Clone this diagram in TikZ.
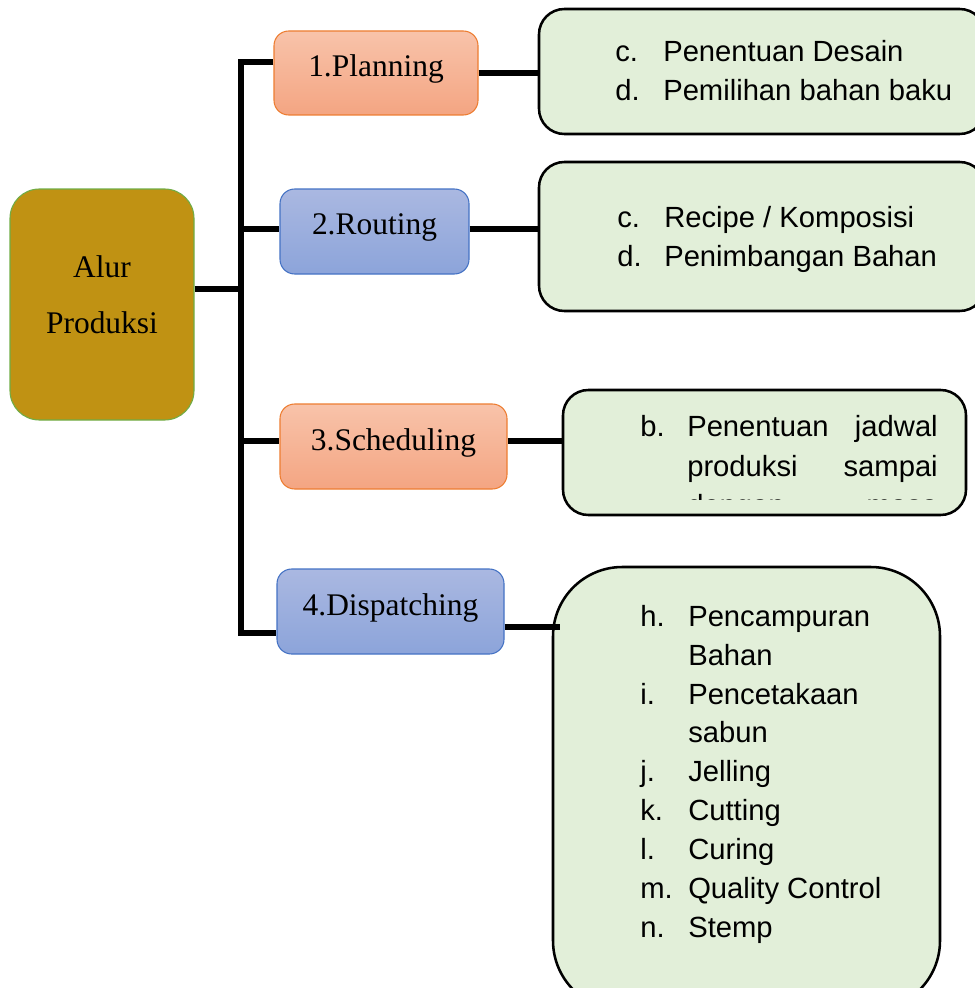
\documentclass[tikz,border=0pt]{standalone}
\usepackage{fontspec}
\setmainfont{Liberation Serif}
\newfontfamily\listfont{Liberation Sans}

\definecolor{alurgold}{HTML}{C09213}
\definecolor{alurline}{HTML}{70AD47}
\definecolor{orangetop}{HTML}{F8C3AA}
\definecolor{orangebot}{HTML}{F4A582}
\definecolor{orangeline}{HTML}{ED7D31}
\definecolor{bluetop}{HTML}{AAB8E1}
\definecolor{bluebot}{HTML}{8CA4DA}
\definecolor{blueline}{HTML}{4472C4}
\definecolor{listgreen}{HTML}{E2EFD9}

\tikzset{
    link/.style={line width=4pt},
    stepbox/.style={draw,line width=0.8pt,rounded corners=11pt,inner sep=0pt,text depth=11pt,
        font=\fontsize{23.6}{28}\selectfont},
    orangebox/.style={stepbox,draw=orangeline,top color=orangetop,bottom color=orangebot},
    bluebox/.style={stepbox,draw=blueline,top color=bluetop,bottom color=bluebot},
    listbox/.style={draw,line width=1.9pt,fill=listgreen,rounded corners=19pt},
    listitem/.style={anchor=base west,inner sep=0pt,font=\listfont\fontsize{21.9}{26}\selectfont},
}

\begin{document}
\begin{tikzpicture}[x=0.75pt,y=-0.75pt]
        \useasboundingbox (0,0) rectangle (974,988);
        %% main box
        \node[draw=alurline,line width=0.8pt,fill=alurgold,rounded corners=22pt,
            minimum width=138pt,minimum height=173.25pt,align=center,text depth=15pt,
            font=\fontsize{23.6}{42}\selectfont] (alur) at (102,304.5) {Alur\\Produksi};
        %% steps
        \node[orangebox,minimum width=153pt,minimum height=63pt] (plan) at (376,73) {1.Planning};
        \node[bluebox,minimum width=141.75pt,minimum height=63.75pt] (rout) at (374.5,231.5) {2.Routing};
        \node[orangebox,minimum width=170.25pt,minimum height=63.75pt] (sched) at (393.5,446.5) {3.Scheduling};
        \node[bluebox,minimum width=170.25pt,minimum height=63.75pt] (disp) at (390.5,611.5) {4.Dispatching};
        %% lists
        \node[listbox,minimum width=334.5pt,minimum height=93.75pt] (desain) at (762,71.5) {};
        \node[listbox,minimum width=334.5pt,minimum height=111.75pt] (resep) at (762,236.5) {};
        \node[listbox,minimum width=302.25pt,minimum height=93.75pt] (jadwal) at (764.5,452.5) {};
        \node[listbox,rounded corners=52pt,minimum width=290.25pt,minimum height=332.25pt] (proses) at (746.5,788.5) {};
        %% tree
        \coordinate (jA) at (241,289);
        \coordinate (j1) at (241,62);
        \coordinate (j2) at (241,229);
        \coordinate (j3) at (241,441);
        \coordinate (j4) at (241,633);
        \coordinate (k4) at (560,627);
        \draw[link] (alur.east |- jA) -- (jA);
        \draw[link] (plan.west |- j1) -- (j1) -- (j4) -- (disp.west |- j4);
        \draw[link] (j2) -- (rout.west |- j2);
        \draw[link] (j3) -- (sched.west |- j3);
        \draw[link] (plan.east) -- (plan.east -| desain.west);
        \draw[link] (rout.east |- j2) -- (j2 -| resep.west);
        \draw[link] (sched.east |- j3) -- (j3 -| jadwal.west);
        \draw[link] (disp.east |- k4) -- (k4);
        %% list texts
        \foreach \y/\l/\t [count=\i] in {62/c./Penentuan Desain,101/d./Pemilihan bahan baku} {
            \node[listitem] (al\i) at (615,\y) {\l};
            \node[listitem] (at\i) at (663,\y) {\t};
        }
        \foreach \y/\l/\t [count=\i] in {227/c./Recipe {/} Komposisi,266/d./Penimbangan Bahan} {
            \node[listitem] (bl\i) at (617,\y) {\l};
            \node[listitem] (bt\i) at (664,\y) {\t};
        }
        \begin{scope}
            \clip (563,390) rectangle (966,499);
            \node[listitem] (cl1) at (640,436) {b.};
            \foreach \y/\a/\b [count=\i] in {436/Penentuan/jadwal,476/produksi/sampai,515/dengan/masa} {
                \node[listitem] (cw\i) at (687,\y) {\a};
                \node[listitem,anchor=base east] (ce\i) at (938,\y) {\b};
            }
        \end{scope}
        \foreach \y/\l/\t [count=\i] in {626/h./Pencampuran,704/i./Pencetakaan,781/j./Jelling,
            820/k./Cutting,859/l./Curing,898/m./Quality Control,937/n./Stemp} {
            \node[listitem] (pl\i) at (640,\y) {\l};
            \node[listitem] (pt\i) at (688,\y) {\t};
        }
        \foreach \y/\t [count=\i] in {665/Bahan,742/sabun} {
            \node[listitem] (pc\i) at (688,\y) {\t};
        }
    \end{tikzpicture}
\end{document}
